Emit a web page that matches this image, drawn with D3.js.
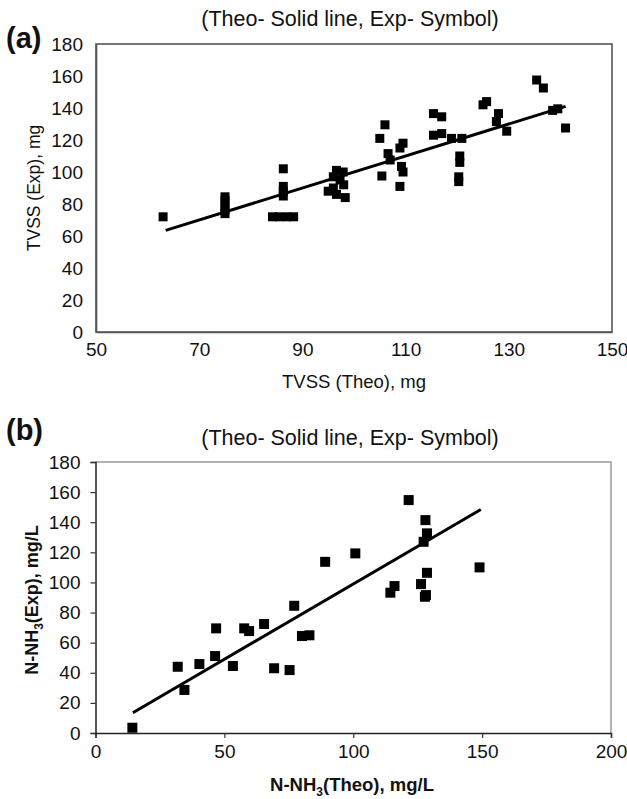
<!DOCTYPE html>
<html><head><meta charset="utf-8">
<script src="https://cdn.jsdelivr.net/npm/d3@7"></script>
<style>body{margin:0;background:#fff}svg{display:block}text{font-family:"Liberation Sans",Arial,sans-serif;fill:#111}</style>
</head><body>
<script>
// ---- Panel (a) data ----
const aTicksX = [50, 70, 90, 110, 130, 150];
const aTicksY = [0, 20, 40, 60, 80, 100, 120, 140, 160, 180];
const aTheo = [63, 75, 75, 75, 75, 75, 86.3, 86.3, 86.3, 86.3, 84.2, 85.5, 87, 88.3,
  96.6, 97.9, 96, 97.3, 95, 96.6, 98.3, 96, 98,
  106, 105, 109.5, 108.9, 106.6, 107, 109.2, 109.5, 105.4, 108.9,
  115.4, 117, 115.4, 117, 118.9, 120.9, 120.5, 120.5, 120.3, 120.3,
  125.7, 125, 128, 127.6, 129.6, 135.4, 136.7, 138.5, 139.5, 141];
const aExp = [72, 74, 76.5, 79, 82, 84.5, 102, 91, 88, 85, 72, 72, 72, 72,
  101, 100, 97, 95, 88, 86, 84, 90, 92,
  129.5, 121, 118, 115, 111.5, 107.5, 103.5, 100, 97.5, 91,
  136.5, 134.5, 123, 124, 121, 121, 110, 106, 97, 94,
  144, 142, 136.5, 131.5, 125.5, 157.5, 152.5, 138.5, 139.5, 127.5];
const aLineX = [63.5, 141];
const aLineY = [63.5, 141];

// ---- Panel (b) data ----
const bTicksX = [0, 50, 100, 150, 200];
const bTicksY = [0, 20, 40, 60, 80, 100, 120, 140, 160, 180];
const bTheo = [14.3, 31.9, 34.5, 40.3, 46.8, 46.4, 53.3, 57.7, 59.6, 65.4, 69.3, 75.3, 77.1, 80.1, 83, 89.1,
  100.8, 121.5, 128, 128.6, 127.3, 128.6, 126.3, 128.2, 127.8, 116, 114.4, 149];
const bExp = [3.5, 44, 28.6, 45.8, 69.5, 51.1, 44.5, 69.5, 67.7, 72.4, 43, 41.8, 84.5, 64.4, 64.9, 113.7,
  119.3, 154.7, 141.4, 132.6, 127, 106.4, 98.9, 91.6, 90.5, 97.6, 93.2, 110];
const bLineX = [14.5, 149.5];
const bLineY = [13.5, 148.5];

const title = "(Theo- Solid line, Exp- Symbol)";

const svg = d3.select("body").append("svg").attr("width", 627).attr("height", 799);

function panel(o) {
  const x = d3.scaleLinear().domain([o.ticksX[0], o.ticksX[o.ticksX.length - 1]]).range([o.left, o.right]);
  const y = d3.scaleLinear().domain([o.ticksY[0], o.ticksY[o.ticksY.length - 1]]).range([o.bottom, o.top]);
  const g = svg.append("g");
  if (o.style === "a") {
    g.append("rect").attr("x", o.left).attr("y", o.top).attr("width", o.right - o.left).attr("height", o.bottom - o.top)
      .attr("fill", "none").attr("stroke", "#555").attr("stroke-width", 1.6);
  } else {
    g.append("path").attr("d", `M${o.left},${o.top}H${o.right}V${o.bottom}`).attr("fill", "none").attr("stroke", "#999").attr("stroke-width", 1.5);
  }
  const tickLen = o.style === "a" ? 0 : 5;
  const xa = g.append("g").attr("transform", `translate(0,${o.bottom})`)
    .call(d3.axisBottom(x).tickValues(o.ticksX).tickSize(tickLen).tickPadding(o.style === "a" ? 11 : 7).tickFormat(d3.format("d")));
  const ya = g.append("g").attr("transform", `translate(${o.left},0)`)
    .call(d3.axisLeft(y).tickValues(o.ticksY).tickSize(tickLen).tickPadding(o.style === "a" ? 13 : 10).tickFormat(d3.format("d")));
  [xa, ya].forEach(a => {
    a.select(".domain").attr("stroke", o.style === "a" ? "#555" : "#222").attr("stroke-width", o.style === "a" ? 1.6 : 1.5);
    a.selectAll(".tick line").attr("stroke", "#333").attr("stroke-width", 1.2);
    a.selectAll(".tick text").attr("font-size", 19).attr("fill", "#111").attr("font-family", '"Liberation Sans",Arial,sans-serif');
  });
  const pts = o.lineX.map((v, i) => [v, o.lineY[i]]);
  g.append("path").attr("d", d3.line().x(d => x(d[0])).y(d => y(d[1]))(pts))
    .attr("stroke", "#000").attr("stroke-width", 3).attr("fill", "none");
  const s = o.size;
  g.selectAll("rect.pt").data(o.theo.map((v, i) => [v, o.exp[i]])).join("rect").attr("class", "pt")
    .attr("x", d => x(d[0]) - s / 2).attr("y", d => y(d[1]) - s / 2)
    .attr("width", s).attr("height", s).attr("fill", "#000");
  return {x, y};
}

panel({style: "a", left: 96, right: 612, top: 44, bottom: 332, ticksX: aTicksX, ticksY: aTicksY,
  theo: aTheo, exp: aExp, lineX: aLineX, lineY: aLineY, size: 9});
panel({style: "b", left: 95.5, right: 611, top: 462, bottom: 733, ticksX: bTicksX, ticksY: bTicksY,
  theo: bTheo, exp: bExp, lineX: bLineX, lineY: bLineY, size: 10});

svg.append("text").attr("x", 6).attr("y", 48).attr("font-size", 29).attr("font-weight", "bold").text("(a)");
svg.append("text").attr("x", 6).attr("y", 440).attr("font-size", 29).attr("font-weight", "bold").text("(b)");
svg.append("text").attr("x", 350).attr("y", 26).attr("text-anchor", "middle").attr("font-size", 21.5).text(title);
svg.append("text").attr("x", 350).attr("y", 445).attr("text-anchor", "middle").attr("font-size", 21.5).text(title);

svg.append("text").attr("x", 354).attr("y", 388).attr("text-anchor", "middle").attr("font-size", 18.5).text("TVSS (Theo), mg");
svg.append("text").attr("transform", "translate(40,188) rotate(-90)").attr("text-anchor", "middle").attr("font-size", 17.5).text("TVSS (Exp), mg");

const xb = svg.append("text").attr("x", 352).attr("y", 791).attr("text-anchor", "middle").attr("font-size", 18.5).attr("font-weight", "bold");
xb.append("tspan").text("N-NH");
xb.append("tspan").attr("font-size", 12).attr("dy", 5).text("3");
xb.append("tspan").attr("dy", -5).text("(Theo), mg/L");
const yb = svg.append("text").attr("transform", "translate(38,600) rotate(-90)").attr("text-anchor", "middle").attr("font-size", 18).attr("font-weight", "bold");
yb.append("tspan").text("N-NH");
yb.append("tspan").attr("font-size", 12).attr("dy", 5).text("3");
yb.append("tspan").attr("dy", -5).text("(Exp), mg/L");
</script>
</body></html>
